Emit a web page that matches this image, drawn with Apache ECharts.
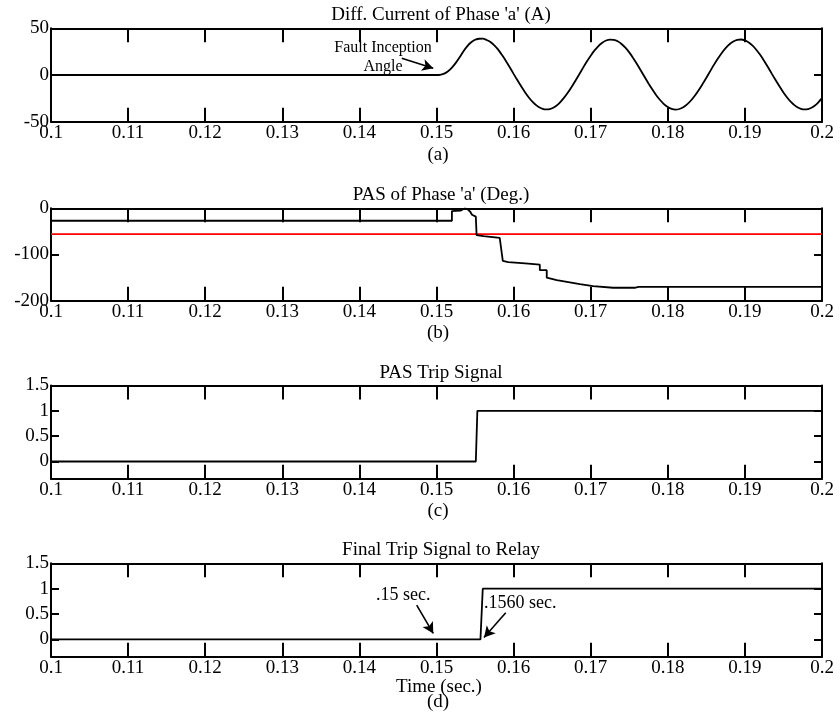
<!DOCTYPE html>
<html><head><meta charset="utf-8">
<script src="https://cdn.jsdelivr.net/npm/echarts@6/dist/echarts.min.js"></script>
<style>html,body{margin:0;padding:0;background:#fff}#c{width:840px;height:723px}</style>
</head><body><div id="c"></div>
<script>
const FONT = "'Liberation Serif','Times New Roman',Times,serif";

// ---- Panel (a): differential current of phase 'a' (A)
const diffT = [0.1,0.1503,0.151,0.1515,0.152,0.1525,0.153,0.1535,0.154,0.1545,0.155,0.1555,0.156,0.1565,0.157,0.1575,0.158,0.1585,0.159,0.1595,0.16,0.1605,0.161,0.1615,0.162,0.1625,0.163,0.1635,0.164,0.1645,0.165,0.1655,0.166,0.1665,0.167,0.1675,0.168,0.1685,0.169,0.1695,0.17,0.1705,0.171,0.1715,0.172,0.1725,0.173,0.1735,0.174,0.1745,0.175,0.1755,0.176,0.1765,0.177,0.1775,0.178,0.1785,0.179,0.1795,0.18,0.1805,0.181,0.1815,0.182,0.1825,0.183,0.1835,0.184,0.1845,0.185,0.1855,0.186,0.1865,0.187,0.1875,0.188,0.1885,0.189,0.1895,0.19,0.1905,0.191,0.1915,0.192,0.1925,0.193,0.1935,0.194,0.1945,0.195,0.1955,0.196,0.1965,0.197,0.1975,0.198,0.1985,0.199,0.1995,0.2];
const diffI = [0,0,1.5,4,8,13,19,25.5,31,35,37.8,38.8,39,37.5,35.3,31.8,27.2,21.3,15.1,8.3,1.2,-5.7,-12.4,-18.7,-24.3,-29.1,-32.8,-35.4,-36.8,-36.9,-35.6,-33.2,-29.5,-24.8,-19.3,-13.1,-6.4,0.5,7.6,14.4,20.7,26.3,31.0,34.5,36.9,37.9,37.7,36.1,33.2,29.2,24.2,18.3,11.7,4.8,-2.2,-9.1,-15.6,-21.6,-26.8,-31.1,-34.3,-36.3,-37.0,-36.4,-34.6,-31.5,-27.3,-22.2,-16.3,-9.8,-3.0,4.1,11.1,17.6,23.6,28.7,32.9,35.8,37.6,38.0,37.0,34.8,31.4,26.8,21.3,15.1,8.3,1.2,-5.7,-12.4,-18.7,-24.3,-29.1,-32.8,-35.4,-36.8,-36.9,-35.6,-33.2,-29.5,-24.8];

// ---- Panel (b): PAS of phase 'a' (deg)
const pasT = [0.1,0.1520,0.1520,0.1531,0.1533,0.1537,0.1541,0.1544,0.1546,0.1551,0.1552,0.1561,0.1582,0.1584,0.1586,0.1593,0.1615,0.1634,0.1634,0.1643,0.1643,0.1656,0.1686,0.1703,0.1729,0.1757,0.1762,0.2];
const pasV = [-27,-27,-6,-5,-1,0,-3,-8,-14,-18,-58,-60,-64,-68,-114,-116.5,-119,-122,-134,-134,-150,-155.5,-164,-168.5,-172,-172,-170,-170];
const pasThreshold = -56;
const thresholdT = [0.1, 0.2];

// ---- Panel (c): PAS trip signal
const tripT = [0.1,0.1551,0.1553,0.2];
const tripV = [0,0,1,1];

// ---- Panel (d): final trip signal to relay
const finalT = [0.1,0.1557,0.1560,0.2];
const finalV = [0,0,1,1];

// ---- texts
const titles = ["Diff. Current of Phase 'a' (A)", "PAS of Phase 'a' (Deg.)", "PAS Trip Signal", "Final Trip Signal to Relay"];
const panelTags = ["(a)","(b)","(c)","(d)"];
const xAxisName = "Time (sec.)";
const yTicksA = [-50, 0, 50];
const yTicksB = [-200, -100, 0];
const yTicksTrip = [0, 0.5, 1, 1.5];

// annotations (data coordinates)
const annoA = {text:"Fault Inception\nAngle", at:[0.14306,19.3], from:[0.14549,17.9], to:[0.14958,7.2]};
const annoD1 = {text:".15 sec.", at:[0.14569,0.874], from:[0.14743,0.677], to:[0.14958,0.118]};
const annoD2 = {text:".1560 sec.", at:[0.16087,0.71], from:[0.15898,0.525], to:[0.15616,0.04]};

const zip = (a,b) => a.map((v,i)=>[v,b[i]]);

const panels = [
  {top:28.3, height:93.4, yMin:-50, yMax:50, yInt:50},
  {top:208.3, height:92.4, yMin:-200, yMax:0, yInt:100},
  {top:385.5, height:93.2, yMin:-0.34, yMax:1.5, custom:yTicksTrip},
  {top:563.3, height:93.4, yMin:-0.34, yMax:1.5, custom:yTicksTrip}
];

const grids = [], xAxes = [], yAxes = [];
const lineSt = {color:'#000', width:2};
panels.forEach((p,i)=>{
  grids.push({left:51, width:771, top:p.top, height:p.height, containLabel:false});
  ['bottom','top'].forEach(pos=>{
    xAxes.push({
      type:'value', gridIndex:i, position:pos, min:0.1, max:0.2, interval:0.01,
      splitLine:{show:false},
      axisLine:{show:true, onZero:false, lineStyle:lineSt},
      axisTick:{show:true, inside:true, length:14, lineStyle:lineSt},
      axisLabel:{show:pos==='bottom', margin:2, fontSize:19, color:'#000', fontFamily:FONT,
        showMinLabel:true, showMaxLabel:true, formatter:v=>String(+v.toFixed(3))}
    });
  });
  ['left','right'].forEach(pos=>{
    const y = {
      type:'value', gridIndex:i, position:pos, min:p.yMin, max:p.yMax,
      splitLine:{show:false},
      axisLine:{show:true, onZero:false, lineStyle:lineSt},
      axisTick:{show:true, inside:true, length:8, lineStyle:lineSt},
      axisLabel:{show:pos==='left', margin:2, fontSize:19, color:'#000', fontFamily:FONT,
        showMinLabel:true, showMaxLabel:true, formatter:v=>String(+(+v).toFixed(3))}
    };
    if (p.custom) {
      y.axisTick.customValues = p.custom;
      y.axisLabel.customValues = p.custom;
    } else {
      y.interval = p.yInt;
    }
    yAxes.push(y);
  });
});

const arrowLine = (a) => ({
  silent:true, symbol:['none','arrow'], symbolSize:[9,11],
  lineStyle:{color:'#000', width:1.6, type:'solid'},
  label:{show:false}, emphasis:{disabled:true}, animation:false,
  data:[[{coord:a.from},{coord:a.to}]]
});

const baseLine = (i, data, color) => ({
  type:'line', xAxisIndex:2*i, yAxisIndex:2*i, data, showSymbol:false, symbol:'none',
  lineStyle:{color, width:1.8}, itemStyle:{color}, animation:false, silent:true, clip:true
});

const s0 = baseLine(0, zip(diffT, diffI), '#000'); s0.smooth = 0.2; s0.markLine = arrowLine(annoA);
const sRed = baseLine(1, thresholdT.map(t=>[t,pasThreshold]), '#ff0000');
const s1 = baseLine(1, zip(pasT, pasV), '#000');
const s2 = baseLine(2, zip(tripT, tripV), '#000');
const s3 = baseLine(3, zip(finalT, finalV), '#000');
const s3b = baseLine(3, [], '#000'); 
s3.markLine = arrowLine(annoD1);
s3b.data = []; s3b.markLine = arrowLine(annoD2);

const chart = echarts.init(document.getElementById('c'), null, {renderer:'canvas'});
chart.setOption({
  backgroundColor:'#fff', animation:false,
  grid:grids, xAxis:xAxes, yAxis:yAxes,
  series:[s0, sRed, s1, s2, s3, s3b]
});

// text overlays
const txt = (x,y,text,size,align) => ({type:'text', x, y, silent:true,
  style:{text, fill:'#000', font:`${size}px ${FONT}`, align:align||'center', verticalAlign:'middle', lineHeight:19}});
const titleY = [15,195,373,550];
const tagY = [155,333.5,511.5,701.7];
const g = [];
titles.forEach((t,i)=>g.push(txt(441,titleY[i],t,19)));
panelTags.forEach((t,i)=>g.push(txt(438,tagY[i],t,19)));
g.push(txt(439,686.7,xAxisName,19));
const pa = chart.convertToPixel({gridIndex:0}, annoA.at);
g.push(txt(pa[0],pa[1],annoA.text,16));
const pd1 = chart.convertToPixel({gridIndex:3}, annoD1.at);
g.push(txt(pd1[0],pd1[1],annoD1.text,18));
const pd2 = chart.convertToPixel({gridIndex:3}, annoD2.at);
g.push(txt(pd2[0],pd2[1],annoD2.text,18));
chart.setOption({graphic:g});
</script></body></html>
